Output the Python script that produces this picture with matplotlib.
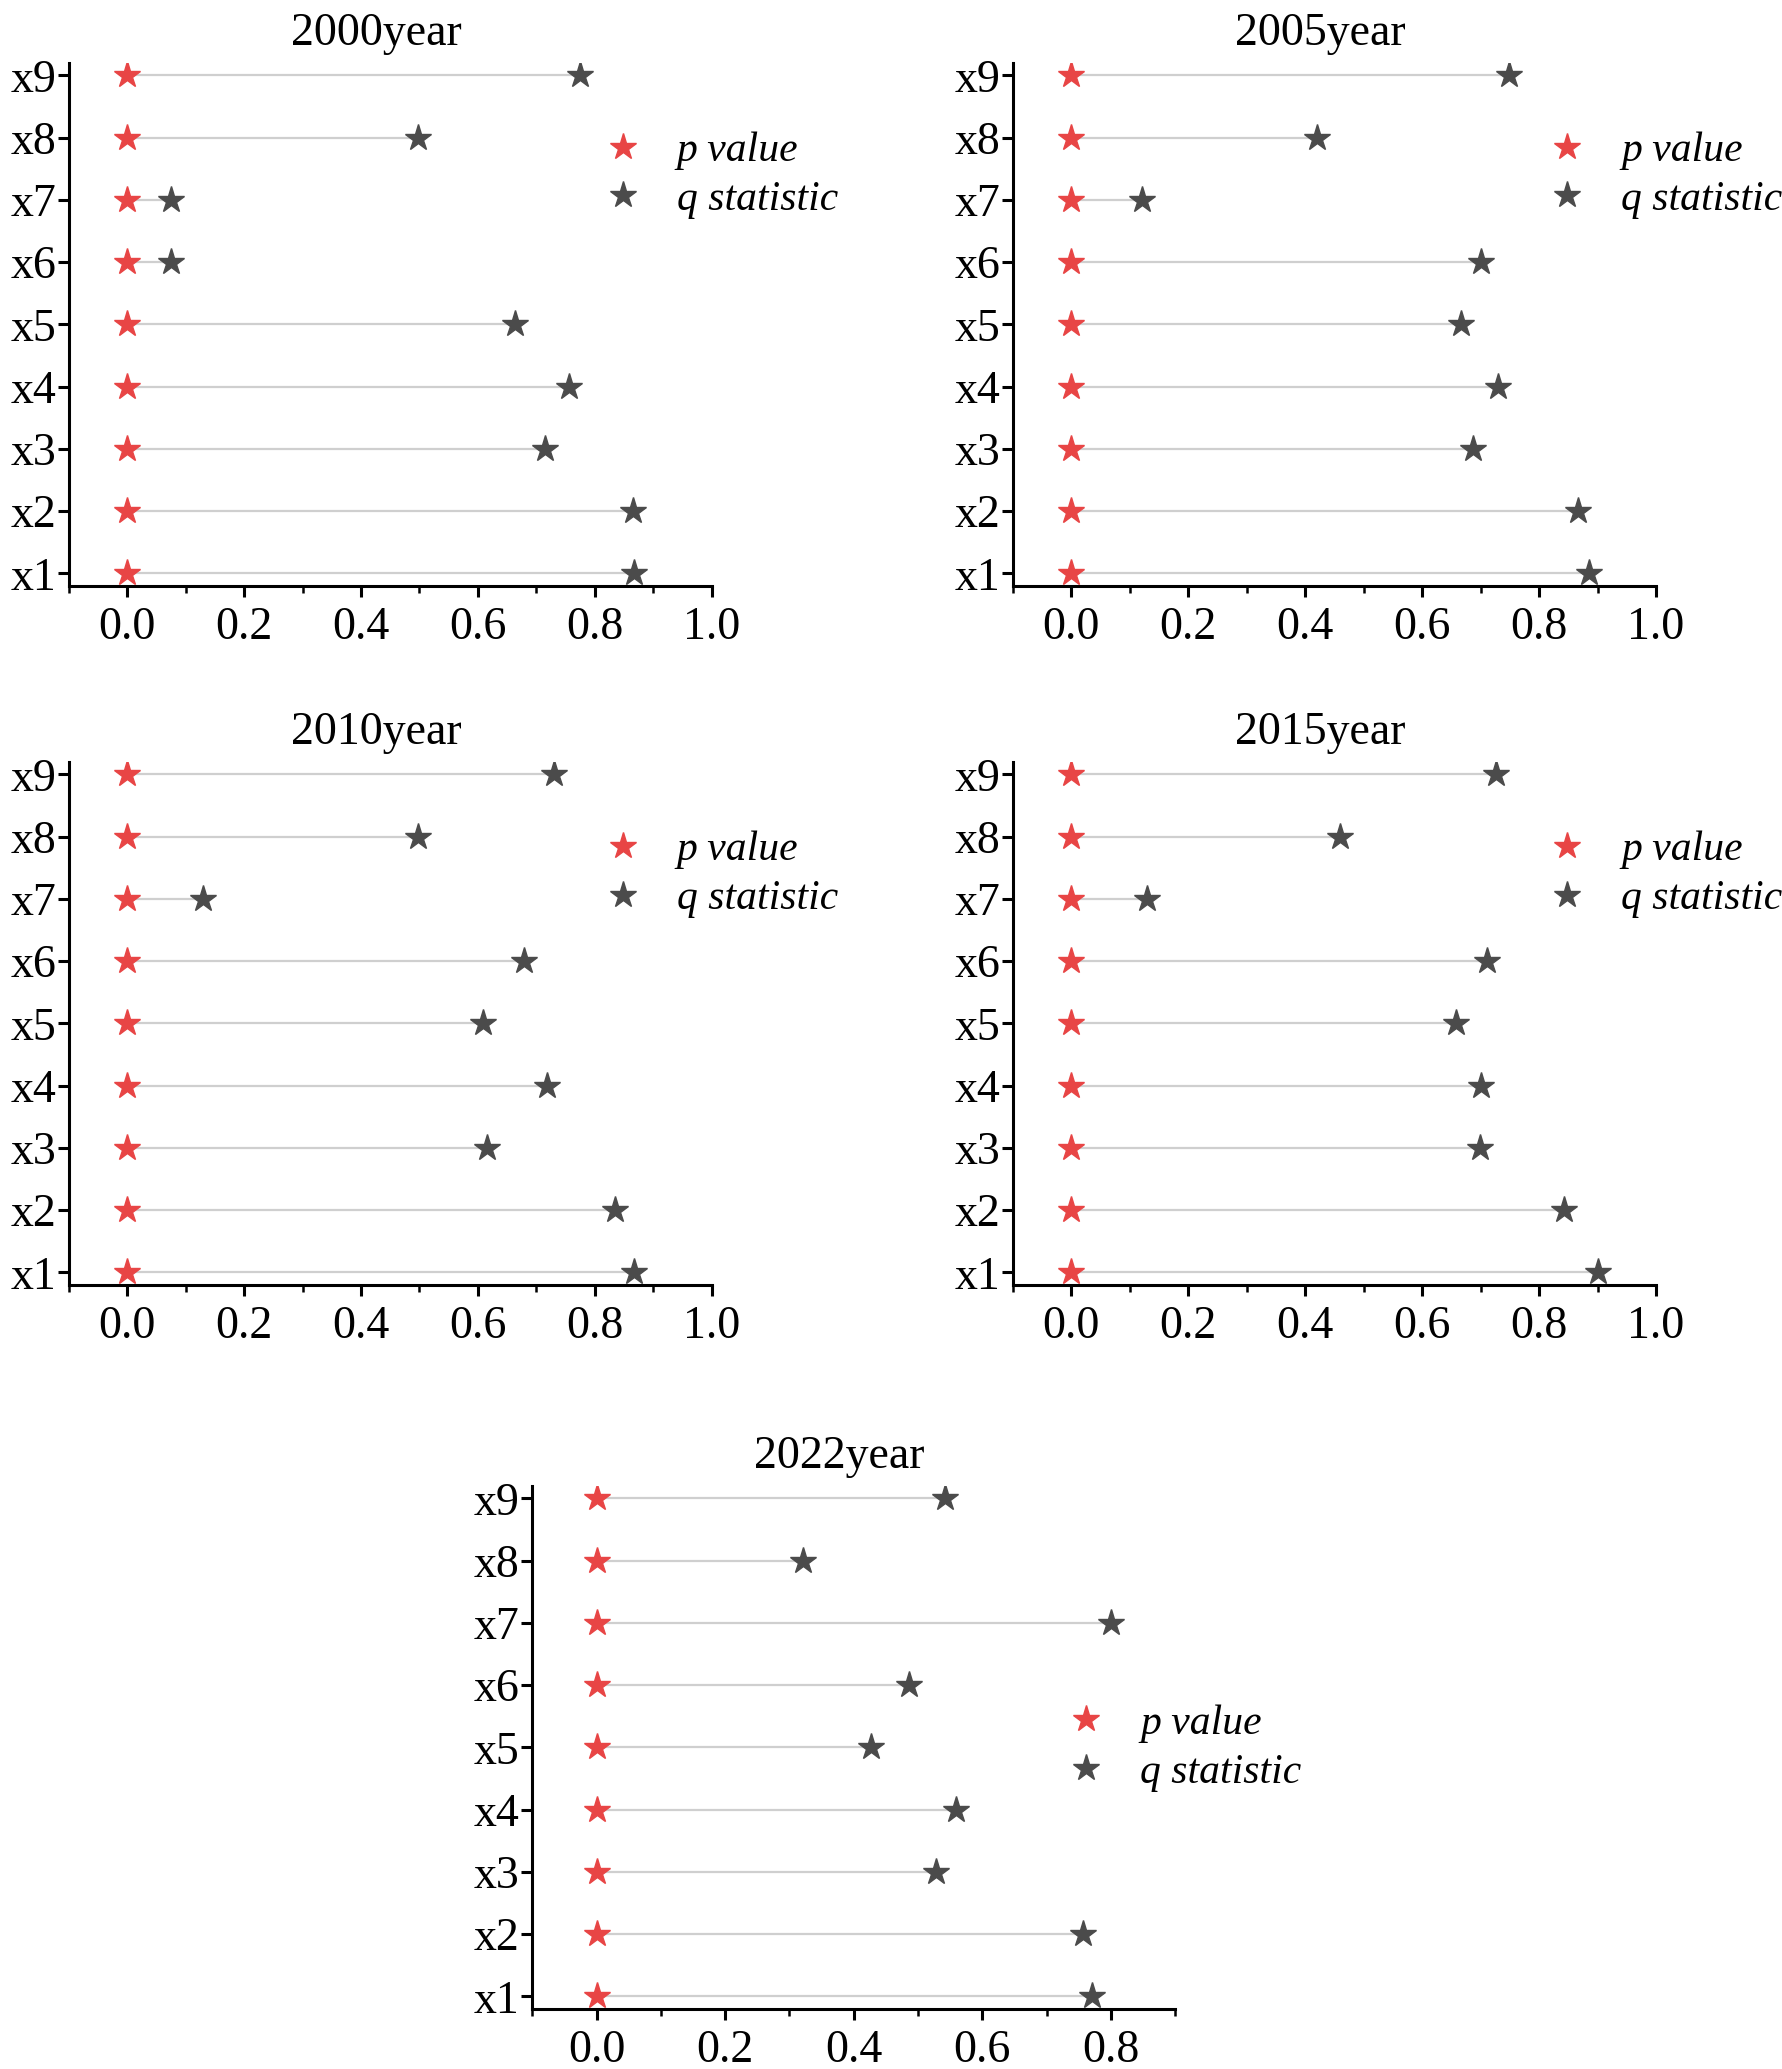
import matplotlib
matplotlib.use('Agg')
import matplotlib.pyplot as plt
from matplotlib.ticker import MultipleLocator

plt.rcParams['font.family'] = ['Liberation Serif', 'DejaVu Serif']

# factor names, bottom to top
factors = ['x1', 'x2', 'x3', 'x4', 'x5', 'x6', 'x7', 'x8', 'x9']
years = ['2000', '2005', '2010', '2015', '2022']

# p values (all ~0)
p_2000 = [0, 0, 0, 0, 0, 0, 0, 0, 0]
p_2005 = [0, 0, 0, 0, 0, 0, 0, 0, 0]
p_2010 = [0, 0, 0, 0, 0, 0, 0, 0, 0]
p_2015 = [0, 0, 0, 0, 0, 0, 0, 0, 0]
p_2022 = [0, 0, 0, 0, 0, 0, 0, 0, 0]

# q statistic, x1..x9
q_2000 = [0.867, 0.865, 0.714, 0.755, 0.664, 0.075, 0.075, 0.498, 0.775]
q_2005 = [0.886, 0.866, 0.687, 0.730, 0.666, 0.701, 0.121, 0.420, 0.748]
q_2010 = [0.867, 0.835, 0.616, 0.719, 0.608, 0.679, 0.129, 0.498, 0.731]
q_2015 = [0.900, 0.843, 0.699, 0.701, 0.657, 0.711, 0.129, 0.459, 0.727]
q_2022 = [0.771, 0.757, 0.528, 0.559, 0.426, 0.486, 0.800, 0.321, 0.542]

p_all = [p_2000, p_2005, p_2010, p_2015, p_2022]
q_all = [q_2000, q_2005, q_2010, q_2015, q_2022]

red = '#e84545'
dark = '#4b4b4b'

fig = plt.figure(figsize=(17.83, 20.69), dpi=100)

# axes rectangles and legend centre (axes fraction y)
w, h = 0.3607, 0.2527
rects = [
    (0.0385, 0.7169), (0.5681, 0.7169),
    (0.0385, 0.3790), (0.5681, 0.3790),
    (0.2985, 0.0291),
]
legend_y = [0.785, 0.785, 0.785, 0.785, 0.4985]
xmax = [1.0, 1.0, 1.0, 1.0, 0.9]

for i, year in enumerate(years):
    ax = fig.add_axes([rects[i][0], rects[i][1], w, h])
    ypos = list(range(1, len(factors) + 1))
    p = p_all[i]
    q = q_all[i]

    # connecting lines
    ax.hlines(ypos, p, q, color='#cfcfcf', lw=1.6, zorder=1)
    ax.plot(p, ypos, ls='none', marker='*', ms=20, color=red,
            mec=red, label='p value', zorder=3)
    ax.plot(q, ypos, ls='none', marker='*', ms=20, color=dark,
            mec=dark, label='q statistic', zorder=2)

    ax.set_xlim(-0.1, xmax[i])
    ax.set_ylim(0.8, 9.2)
    ax.set_yticks(ypos)
    ax.set_yticklabels(factors)
    ax.xaxis.set_major_locator(MultipleLocator(0.2))
    ax.xaxis.set_minor_locator(MultipleLocator(0.1))
    ax.xaxis.set_major_formatter(plt.FuncFormatter(lambda v, pos: f'{v:.1f}'))

    for side in ['top', 'right']:
        ax.spines[side].set_visible(False)
    for side in ['left', 'bottom']:
        ax.spines[side].set_linewidth(2.2)
    ax.tick_params(axis='both', which='major', direction='out', length=8,
                   width=2.2, labelsize=33, pad=4)
    ax.tick_params(axis='x', which='minor', direction='out', length=5, width=1.8)
    ax.tick_params(axis='x', which='major', pad=7)
    ax.tick_params(axis='y', which='major', pad=1)

    ax.set_title(year + 'year', fontsize=33, x=0.478, pad=13)

    leg = ax.legend(loc='center left', bbox_to_anchor=(0.829, legend_y[i]),
                    frameon=False, handlelength=1.0, handletextpad=0.8,
                    borderpad=0, borderaxespad=0, labelspacing=0.25,
                    prop={'family': 'Liberation Serif', 'style': 'italic', 'size': 30})

fig.savefig('out.png', dpi=100)
